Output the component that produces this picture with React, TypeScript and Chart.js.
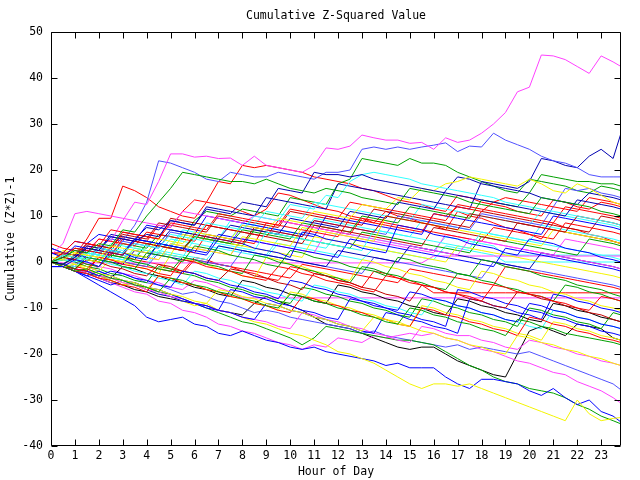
import React, { useEffect, useRef } from "react";
import { Chart, registerables } from "chart.js";

Chart.register(...registerables);

// Hour of day (x positions of the samples)
const HOURS = [
  0, 0.5, 1, 1.5, 2, 2.5, 3, 3.5, 4, 4.5, 5, 5.5, 6, 6.5, 7, 7.5,
  8, 8.5, 9, 9.5, 10, 10.5, 11, 11.5, 12, 12.5, 13, 13.5, 14, 14.5, 15, 15.5,
  16, 16.5, 17, 17.5, 18, 18.5, 19, 19.5, 20, 20.5, 21, 21.5, 22, 22.5, 23, 23.5,
  23.83,
];

const TITLE = "Cumulative Z-Squared Value";
const X_TITLE = "Hour of Day";
const Y_TITLE = "Cumulative (Z*Z)-1";

const RED = "#ff0000";
const DARKRED = "#c00000";
const GREEN = "#00a000";
const BLUE = "#0000ff";
const MEDBLUE = "#5050ff";
const DARKBLUE = "#0000b0";
const MAGENTA = "#ff40ff";
const CYAN = "#30ffff";
const YELLOW = "#f4f400";
const BLACK = "#000000";

// ---- series values (cumulative z^2 - 1) ----
const sMagentaTop = [0, 1.5, 3, 2.5, 5, 4.5, 9, 13, 12.5, 17.5, 23.5, 23.5, 22.8, 23, 22.5, 22.6, 21, 23, 21, 20.5, 20, 19.5, 21, 24.8, 24.5, 25.2, 27.6, 27, 26.5, 26.5, 25.8, 26, 24.5, 27, 26, 26.5, 28, 30, 32.5, 37, 38, 45, 44.8, 44, 42.5, 41, 44.8, 43.5, 42.5];
const sMedBlueTop = [0, -0.5, 1, 0.5, 3, 5, 4.5, 8, 13, 22, 21.5, 20.5, 19.5, 18, 17.5, 19.5, 19, 18.5, 18.5, 19.5, 19, 18.5, 18, 19.5, 19.5, 20, 24.5, 25, 24.5, 25, 24.5, 25, 25.4, 25.9, 24, 25.2, 25, 28, 26.5, 25.5, 24.5, 23, 22, 21.5, 20.5, 19, 18.5, 18.5, 18.5];
const sDarkBlueRise = [3, 2, 1.5, 3, 2.5, 6, 5.5, 5, 7.5, 7, 9, 8.5, 8, 12, 11.5, 11, 10.5, 10, 14, 13.5, 13, 12.5, 12, 11.5, 17, 16.5, 16, 15.5, 15, 14.5, 14, 13.5, 13, 12.5, 12, 11.5, 17.5, 17, 16.5, 16, 17.5, 22.5, 22, 21, 20.5, 23, 24.5, 22.5, 28];
const sGreenUpper = [0, 1, 0.5, 2, 1.5, 1, 4, 3.5, 3, 6, 5.5, 5, 9, 11, 10.5, 10, 11.5, 11, 10.5, 10, 14, 13.5, 13, 12.5, 17, 18, 22.5, 22, 21.5, 21, 22.5, 21.5, 21.5, 21, 19.5, 18.5, 17.5, 16.5, 15.5, 15, 18, 17.5, 17, 16.5, 15.5, 15, 16.5, 16, 15.5];
const sRedPeak = [2, 2, 1.5, 5, 9.5, 9.5, 16.5, 15.5, 14, 12, 11, 10, 9.5, 13, 12.5, 12, 11, 10, 11.5, 15, 14.5, 13.5, 12.5, 11.5, 11, 10, 9.5, 8.5, 11, 10, 9.5, 8.5, 8, 7, 11, 10, 9.5, 8.5, 7.5, 7, 6, 5, 8.5, 7.5, 7, 6, 5.5, 4.5, 4];
const sRedHigh = [0, -0.5, 1, 3.5, 3, 2.5, 5.5, 5, 4.5, 8, 7.5, 11, 13.5, 13, 17.5, 17, 21, 20.5, 21, 20.5, 20, 19.5, 18.5, 18, 17.5, 17, 16, 15.5, 14.5, 13.5, 13, 12.5, 11.5, 11, 14.5, 14, 13, 12.5, 12, 11, 10.5, 10, 13.5, 13, 12, 11.5, 13, 12.5, 12];
const sYellowBottom = [0, -1, -2, -1.5, -3, -4, -5, -4.5, -6, -7, -7.5, -8.5, -9.5, -9, -10.5, -11, -12, -13, -13.5, -14.5, -15.5, -16, -17, -18, -19.5, -20, -21, -22, -23.5, -25, -26.5, -27.5, -26.5, -26.5, -27, -26.5, -27.5, -28.5, -29.5, -30.5, -31.5, -32.5, -33.5, -34.5, -30, -33, -34.5, -34, -33.8];
const sBlueBottom = [0, -1, -2, -3.5, -5, -6.5, -8, -9.5, -12, -13, -12.5, -12, -13.5, -14, -15.5, -16, -15, -16, -17, -17.5, -18.5, -19, -18.5, -19.5, -20, -20.5, -21, -21.5, -22.5, -22, -23, -23, -23, -25, -26.5, -27.5, -25.5, -25.5, -26, -26.5, -28, -29, -27.5, -29.5, -31, -30, -32.5, -33.5, -34.8];
const sGreenBottom = [0, -0.5, -1.5, -2.5, -3, -4, -5, -4.5, -5.5, -6.5, -7, -8, -9, -10, -11, -12, -13, -13.5, -14.5, -15.5, -16.5, -18, -16.5, -14, -14.5, -15, -15.5, -16, -16.5, -17, -17, -17.5, -18, -19.5, -21, -22.5, -23.5, -25, -26, -26.5, -27.5, -28, -28.5, -29.5, -31, -32, -33.5, -34.5, -35.2];
const sMagentaBottom = [0, -1, -1.5, -2.5, -3.5, -4.5, -5.5, -6.5, -7, -8.5, -9, -10.5, -11, -12, -13.5, -14, -15, -15.5, -16.5, -17.5, -18, -19, -18, -18.5, -16.5, -17, -17.5, -16, -16.5, -16, -15.5, -16, -15.5, -16.5, -17, -18, -19, -19.5, -20.5, -21.5, -22, -23, -24, -24.5, -26, -27, -28, -29.5, -30.7];
const sMedBlueLow = [0, 1, 0, -1, -2, -3, -2.5, -3.5, -4.5, -5, -6, -7, -6.5, -7.5, -8.5, -9, -10, -11, -10.5, -11, -12, -12.5, -13, -13.5, -14, -14.5, -15.5, -15, -16, -16.5, -17, -17.5, -18, -18.5, -18, -19, -18.5, -19, -19.5, -20, -19.5, -20.5, -21.5, -22.5, -23.5, -24.5, -25.5, -26.5, -27.8];
const sBlackLow = [0, -1, -2, -2.5, -3.5, -4.5, -5, -6, -6.5, -7.5, -8, -8.5, -9, -9.5, -10.5, -11, -11.5, -9, -7.5, -8.5, -9.5, -10.5, -12, -13.5, -14, -14.5, -15.5, -16.5, -17.5, -18.5, -19, -18.5, -18.5, -20, -21.5, -22.5, -23.5, -24.5, -25, -20, -15, -14, -15, -16, -13.5, -14, -14.5, -16.5, -17];

const s01 = [0, 1, 2.5, 2, 4, 3.5, 7, 6.5, 10, 13, 16, 19.5, 19, 18.5, 18, 17.5, 17.5, 17, 18, 17, 16, 15.5, 15, 16, 15.5, 15, 14, 13.5, 13, 12.5, 16, 15.5, 15, 14.5, 14, 13, 12.5, 12, 11.5, 11, 10.5, 14, 13.5, 13, 12.5, 12, 11, 10.5, 10];
const s02 = [0, -0.5, 1, 3, 2.5, 5.5, 5, 4.5, 6, 5.5, 9, 8.5, 8, 11.5, 11, 10.5, 13, 12.5, 12, 16, 15.5, 15, 19.5, 19, 19, 18.5, 19, 18, 17.5, 17, 16.5, 16, 15.5, 15, 14.5, 14, 13.5, 13, 12.5, 12, 11.5, 11, 10.5, 10, 13.5, 13, 12.5, 12, 11.5];
const s03 = [0, 1.5, 1, 0.5, 3, 2.5, 2, 4, 3.5, 3, 6, 5.5, 5, 8.5, 8, 7.5, 7, 10, 9.5, 9, 12.5, 12, 11.5, 14.5, 14, 17.5, 19, 19.5, 19, 18.5, 18, 17, 16.5, 16, 15.5, 15, 14.5, 14, 13, 12.5, 12, 11.5, 11, 10.5, 10, 9.5, 9, 8.5, 8];
const s04 = [1, 0.5, 2, 1.5, 1, 3.5, 3, 2.5, 2, 5, 4.5, 4, 6.5, 6, 5.5, 5, 8, 7.5, 7, 9.5, 9, 8.5, 11, 10.5, 10, 9.5, 12.5, 12, 11.5, 14, 13.5, 16, 15.5, 17, 17.5, 18.5, 18, 17.5, 17, 16.5, 18, 17, 15.5, 15, 17, 16, 14.5, 13, 12.5];
const s06 = [0, 2, 4.5, 4, 3.5, 7, 6.5, 6, 5.5, 5, 8.5, 8, 7.5, 7, 10.5, 10, 9.5, 9, 8.5, 8, 11.5, 11, 10.5, 10, 9.5, 13, 12.5, 12, 11.5, 11, 10.5, 10, 9.5, 9, 12.5, 12, 11.5, 11, 10.5, 10, 9.5, 9, 8.5, 12, 11.5, 11, 10.5, 10, 9.5];
const s07 = [0, 1, 0.5, 3, 2.5, 2, 1.5, 4.5, 4, 3.5, 3, 2.5, 6, 5.5, 5, 4.5, 4, 7.5, 7, 6.5, 6, 5.5, 9, 8.5, 8, 7.5, 7, 6.5, 10, 9.5, 9, 8.5, 8, 7.5, 7, 10.5, 10, 9.5, 9, 8.5, 8, 7.5, 7, 6.5, 10, 9.5, 9, 8.5, 8];
const s08 = [-1, -1, 0.5, 0, -1, 2.5, 2, 1, 0.5, 4, 3.5, 3, 2, 1.5, 5, 4.5, 4, 3, 2.5, 2, 1, 6.5, 6, 5, 4.5, 4, 3, 2.5, 2, 8, 7.5, 7, 6, 5.5, 5, 4, 3.5, 3, 2, 1.5, 5, 4.5, 4, 3, 2.5, 2, 1, 0.5, 0];
const s09 = [0, -0.5, -1.5, 1, 0.5, 0, -1, -1.5, 2, 1.5, 1, 0, 3.5, 3, 2.5, 1.5, 1, 0.5, -0.5, -1, 2.5, 2, 1, 0.5, 0, -1, -1.5, -2, -3, 1, 0.5, -0.5, -1, -1.5, -2.5, -3, 0.5, 0, -1, -1.5, -2, -3, -3.5, -4, -5, -5.5, -6, -7, -7.5];
const s10 = [0, 1.5, 1, 0.5, 0, 2.5, 2, 1.5, 1, 0.5, 4, 3.5, 3, 2.5, 2, 1.5, 5.5, 5, 4.5, 4, 3.5, 7.5, 7, 6.5, 6, 5.5, 5, 4.5, 10, 9.5, 9, 8.5, 8, 7.5, 7, 6.5, 6, 5.5, 5, 4.5, 4, 3.5, 7, 6.5, 6, 5.5, 5, 4.5, 4];
const s11 = [0, 0.5, 0, 2, 1.5, 1, 0.5, 3, 2.5, 2, 1.5, 1, 5, 4.5, 4, 3.5, 3, 2.5, 6.5, 6, 5.5, 5, 4.5, 4, 3.5, 3, 2.5, 7, 6.5, 6, 5.5, 5, 4.5, 4, 3.5, 3, 6.5, 6, 5.5, 5, 4.5, 4, 3.5, 3, 2.5, 2, 1.5, 1, 0.5];
const s12 = [0, -0.5, -1.5, -2, 1, 0.5, -0.5, -1, -1.5, -2.5, -3, 0.5, 0, -1, -1.5, -2, -3, -3.5, -4, -1, -1.5, -2.5, -3, -4, -4.5, -5, -6, -6.5, -3, -3.5, -4.5, -5, -5.5, -6.5, -7, -7.5, -8.5, -5, -5.5, -6.5, -7, -7.5, -8.5, -9, -10, -10.5, -7.5, -8, -8.5];
const s13 = [2, 1, 3.5, 3, 2.5, 2, 1.5, 5, 4.5, 4, 3.5, 3, 2.5, 2, 6, 5.5, 5, 4.5, 4, 3.5, 3, 2.5, 2, 1.5, 1, 5, 4.5, 4, 3.5, 3, 2.5, 2, 1.5, 1, 0.5, 0, -0.5, -1, 3, 2.5, 2, 1.5, 1, 0.5, 0, -0.5, -1, -1.5, -2];
const s14 = [1.5, 4, 10.5, 11, 10.5, 10, 9.5, 9, 8.5, 8, 7.5, 11, 10.5, 10, 9.5, 9, 8.5, 10, 9.5, 9, 8.5, 8, 7.5, 7, 6.5, 6, 5.5, 5, 4.5, 4, 3.5, 3, 2.5, 2, 1.5, 5, 4.5, 4, 3.5, 3, 2.5, 2, 1.5, 1, 0.5, 0, -0.5, -1, -1.5];
const s15 = [0, 2, 1.5, 4, 3.5, 3, 6.5, 6, 5.5, 5, 9.5, 9, 8.5, 8, 7.5, 7, 6.5, 6, 5.5, 5, 4.5, 4, 8, 7.5, 7, 6.5, 6, 5.5, 5, 4.5, 4, 3.5, 7.5, 7, 6.5, 6, 5.5, 5, 4.5, 8.5, 8, 7.5, 7, 6.5, 6, 5.5, 5, 4.5, 4];
const s16 = [0, -1, -2, -1.5, -2.5, -3.5, -4, -5, -5.5, -6.5, -3.5, -4, -5, -5.5, -6.5, -7, -8, -8.5, -9.5, -10, -7, -7.5, -8.5, -9, -10, -10.5, -11.5, -12, -13, -13.5, -10, -10.5, -11.5, -12, -13, -13.5, -14.5, -15, -16, -12.5, -13, -14, -14.5, -15.5, -16, -16.5, -17, -17.5, -18];
const s17 = [0, -1, -0.5, -1.5, -2.5, -3, -4, -4.5, -5.5, -6, -7, -7.5, -8.5, -9, -6, -6.5, -7.5, -8, -9, -9.5, -10.5, -11, -12, -12.5, -13.5, -14, -15, -12, -12.5, -13.5, -14, -15, -15.5, -16.5, -17, -18, -18.5, -19.5, -20, -16, -16.5, -17.5, -18, -19, -19.5, -20.5, -21, -22, -22.5];
const s18 = [0, -0.5, -1.5, -2, -3, -2, -2.5, -3.5, -4, -5, -5.5, -2, -2.5, -3.5, -4, -5, -5.5, -6.5, -7, -8, -4, -4.5, -5.5, -6, -7, -7.5, -8.5, -9, -10, -10.5, -6.5, -7, -8, -8.5, -9.5, -10, -11, -11.5, -12.5, -13, -9, -9.5, -10.5, -11, -12, -12.5, -13.5, -14, -14.5];
const s19 = [0, -1, -2, -2.5, -3.5, -4, -5, -5.5, -6.5, -3, -3.5, -4.5, -5, -6, -6.5, -7.5, -8, -9, -9.5, -10.5, -11, -7.5, -8, -9, -9.5, -10.5, -11, -12, -12.5, -13.5, -14, -10, -10.5, -11.5, -12, -13, -13.5, -14.5, -15, -16, -12, -12.5, -13.5, -14, -15, -15.5, -16.5, -17, -17.5];
const s26 = [0, 1.5, 1, 3.5, 3, 2.5, 2, 5, 4.5, 4, 7, 6.5, 6, 5.5, 5, 8, 7.5, 7, 6.5, 6, 9.5, 9, 8.5, 8, 7.5, 11, 10.5, 10, 9.5, 13, 12.5, 12, 11.5, 15.5, 18.5, 18, 17, 16.5, 16, 15.5, 15, 14, 13.5, 13, 12.5, 15, 14.5, 14, 13.5];
const s27 = [0, -0.5, 1, 0.5, 0, 2.5, 2, 1.5, 1, 4, 3.5, 3, 5.5, 5, 4.5, 4, 7, 6.5, 6, 5.5, 5, 8.5, 8, 7.5, 7, 6.5, 10, 9.5, 9, 8.5, 12, 11.5, 11, 10.5, 10, 9.5, 13.5, 13, 12.5, 12, 15, 19, 18.5, 18, 17.5, 17.5, 17, 17, 16.5];
const s28 = [0, 1.5, 3, 2.5, 2, 1.5, 5, 4.5, 4, 3.5, 3, 2.5, 2, 6, 5.5, 5, 4.5, 4, 8.5, 8, 7.5, 7, 6.5, 6, 5.5, 9.5, 9, 8.5, 8, 7.5, 7, 6.5, 10.5, 10, 12, 11.5, 11, 13, 14, 13.5, 13, 12.5, 12, 11.5, 11, 14, 13.5, 13, 12.5];
const s29 = [0, 2.5, 2, 1.5, 1, 0.5, 0, 3, 2.5, 2, 1.5, 6, 5.5, 5, 4.5, 4, 3.5, 3, 2.5, 2, 1.5, 1, 5.5, 5, 4.5, 4, 3.5, 3, 2.5, 2, 1.5, 1, 0.5, 0, 3.5, 3, 2.5, 2, 1.5, 1, 0.5, 0, -0.5, -1, -1.5, -2, -2.5, -3, -3.5];
const s30 = [0, 1, 0.5, 2.5, 2, 1.5, 4.5, 4, 3.5, 3, 6.5, 6, 5.5, 5, 4.5, 4, 8, 7.5, 7, 6.5, 6, 5.5, 9, 8.5, 8, 7.5, 7, 6.5, 6, 10, 9.5, 9, 8.5, 8, 7.5, 7, 10.5, 10, 9.5, 9, 8.5, 8, 12, 16, 15.5, 16, 15, 14.5, 14];
const s31 = [0, -1, -1.5, 0.5, 0, -1, -1.5, -2.5, -3, -0.5, -1, -2, -2.5, -3.5, -4, -1.5, -2, -3, -3.5, -4.5, -5, -6, -2.5, -3, -4, -4.5, -5.5, -6, -7, -7.5, -8.5, -5, -5.5, -6.5, -7, -8, -8.5, -9.5, -10, -6.5, -7, -8, -8.5, -9.5, -10, -11, -11.5, -12.5, -13];
const s32 = [0, 1, 0.5, -0.5, -1, 1.5, 1, 0, -0.5, -1.5, -2, 1, 0.5, -0.5, -1, -2, -2.5, 1.5, 1, 0, -0.5, -1.5, -2, -3, -3.5, -4.5, -1, -1.5, -2.5, -3, -4, -4.5, -5.5, -6, -2.5, -3, -4, -4.5, -5.5, -6, -7, -7.5, -8.5, -5, -5.5, -6.5, -7, -8, -8.5];
const s33 = [-1, -1, -2, -3, -2, -3, -4, -4.5, -5.5, -6, -7, -8, -9, -9.5, -10.5, -11, -12, -12.5, -9, -9.5, -10.5, -11, -12, -12.5, -13.5, -14, -15, -15.5, -11, -11.5, -12.5, -13, -14, -14.5, -15.5, -8, -8.5, -9.5, -10, -11, -11.5, -12.5, -7, -7.5, -8.5, -9, -10, -10.5, -11];
const s34 = [0, -0.5, -1.5, -2, -3, -3.5, -4.5, -5, -6, -6.5, -7.5, -8, -9, -9.5, -10.5, -11, -12, -12.5, -13, -14, -14.5, -11, -11.5, -12.5, -13, -14, -14.5, -15.5, -16, -17, -17.5, -14, -14.5, -15.5, -16, -16, -17, -17.5, -18.5, -19, -17, -17.5, -18.5, -19, -20, -20.5, -21.5, -22, -22.5];
const s35 = [0, -0.5, -1, 1, 0.5, -0.5, -1, -2, -2.5, -3.5, -4, -5, -2, -2.5, -3.5, -4, -5, -5.5, -6.5, -7, -8, -8.5, -5, -5.5, -6.5, -7, -8, -8.5, -9.5, -10, -11, -11.5, -8, -8.5, -9.5, -10, -11, -11.5, -12.5, -13, -14, -14.5, -10.5, -11, -12, -12.5, -13.5, -14, -14.5];
const s36 = [0, 0.5, -0.5, -1, -2, 0.5, 0, -1, -1.5, -2.5, 1.5, 1, 0, -0.5, -1.5, -2, -3, -3.5, 1, 0.5, -0.5, -1, -2, -2.5, -3.5, -4, 0.5, 0, -1, -1.5, -2.5, -3, -4, -4.5, -5.5, -6, -2, -2.5, -3.5, -4, -5, -5.5, -6.5, -7, -8, -8.5, -9.5, -10, -10.5];
const s37 = [4, 3, 2.5, 2, 5, 4.5, 4, 3.5, 6.5, 6, 5.5, 5, 4.5, 8, 7.5, 7, 6.5, 6, 5.5, 9, 8.5, 8, 7.5, 7, 6.5, 6, 9.5, 9, 8.5, 8, 7.5, 7, 6.5, 6, 5.5, 5, 4.5, 7.5, 7, 6.5, 6, 5.5, 5, 8.5, 8, 7.5, 7, 6.5, 6];
const s38 = [3, 2, 4.5, 4, 6, 5.5, 5, 4.5, 8, 7.5, 7, 6.5, 6, 10, 9.5, 9, 8.5, 8, 7.5, 7, 6.5, 6, 5.5, 10, 9.5, 9, 8.5, 8, 7.5, 7, 6.5, 6, 10.5, 10, 9.5, 9, 8.5, 8, 7.5, 7, 6.5, 6, 10, 9.5, 9, 8.5, 8, 7.5, 7];
const s39 = [0, -0.5, 1.5, 1, 0.5, 0, -0.5, 2.5, 2, 1.5, 1, 0.5, 0, -0.5, 3.5, 3, 2.5, 2, 1.5, 1, 0.5, 0, -0.5, -1, 2.5, 2, 1.5, 1, 0.5, 0, 3.5, 3, 2.5, 2, 1.5, 1, 0.5, 0, -0.5, -1, -1.5, 2, 1.5, 1, 0.5, 0, -0.5, -1, -1.5];
const s40 = [0, 0.5, 3, 2.5, 2, 1.5, 1, 0.5, 4, 3.5, 3, 2.5, 5.5, 5, 4.5, 4, 3.5, 7, 6.5, 6, 5.5, 5, 4.5, 4, 3.5, 3, 6.5, 6, 5.5, 5, 4.5, 4, 3.5, 3, 2.5, 2, 5.5, 5, 4.5, 4, 3.5, 3, 2.5, 2, 1.5, 5, 4.5, 4, 3.5];
const s41 = [0, 1, 0.5, 0, 2.5, 2, 1.5, 1, 4, 3.5, 3, 6.5, 6, 5.5, 5, 9, 8.5, 8, 11, 10.5, 10, 9.5, 13, 12.5, 12, 11.5, 11, 10.5, 10, 9.5, 9, 12.5, 12, 11.5, 11, 10.5, 10, 9.5, 9, 8.5, 8, 11, 10.5, 10, 9.5, 9, 8.5, 8, 7.5];
const s42 = [0, -0.5, -1, 1.5, 1, 0.5, 0, -0.5, -1, 2, 1.5, 1, 0.5, 0, -0.5, -1, 2.5, 2, 1.5, 1, 0.5, 0, -0.5, -1, -1.5, -2, -2.5, 1, 0.5, 0, -0.5, -1, -1.5, -2, -2.5, -3, -3.5, 0, -0.5, -1, -1.5, -2, -2.5, -3, -3.5, -4, -4.5, -5, -5.5];
const s43 = [2, 1.5, 1, 4, 3.5, 3, 6, 5.5, 5, 8.5, 8, 7.5, 7, 6.5, 10, 9.5, 9, 8.5, 8, 7.5, 11, 10.5, 10, 9.5, 9, 8.5, 8, 11.5, 11, 10.5, 10, 9.5, 9, 8.5, 8, 7.5, 11, 10.5, 10, 9.5, 9, 8.5, 8, 7.5, 7, 6.5, 10, 9.5, 9];
const s44 = [0, -0.5, -1, -1.5, 1, 0.5, 0, -0.5, -1, -1.5, -2, -2.5, 0.5, 0, -0.5, -1, -1.5, -2, -2.5, -3, -3.5, -0.5, -1, -1.5, -2, -2.5, -3, -3.5, -4, -4.5, -1.5, -2, -2.5, -3, -3.5, -4, -4.5, -5, -1, -1.5, -2, -2.5, -3, -3.5, -4, -4.5, -5, -5.5, -6];
const s45 = [0, -0.5, -1.5, -2, -3, -3.5, -4.5, -5, -6, -3, -3.5, -4.5, -5, -6, -6.5, -7.5, -8, -9, -9.5, -10.5, -6.5, -7, -8, -8.5, -9.5, -10, -11, -11.5, -12.5, -13, -14, -9.5, -10, -11, -11.5, -12.5, -13, -14, -14.5, -15.5, -16, -17, -13, -13.5, -14.5, -15, -16, -16.5, -17];
const s46 = [0, -1, -2, -3, -4, -5, -4, -5, -6, -7, -7.5, -8.5, -9, -10, -10.5, -6, -6.5, -7.5, -8, -9, -9.5, -10.5, -11, -12, -12.5, -8, -8.5, -9.5, -10, -11, -11.5, -12.5, -13, -14, -6, -6.5, -7.5, -8, -9, -9.5, -10.5, -11, -12, -12.5, -13.5, -14, -15, -15.5, -16];
const s47 = [0, 0.5, 0, -1, -1.5, -2.5, -3, -4, -4.5, -1, -1.5, -2.5, -3, -4, -4.5, -5.5, -6, -7, -7.5, -8.5, -9, -5.5, -6, -7, -7.5, -8.5, -9, -10, -10.5, -11.5, -12, -8, -8.5, -9.5, -10, -11, -11.5, -12.5, -13, -14, -10, -10.5, -11.5, -12, -13, -13.5, -14.5, -11, -11.5];
const s48 = [0, -0.5, -1.5, -2, -3, -3.5, -1, -1.5, -2.5, -3, -4, -4.5, -5.5, -6, -7, -7.5, -4, -4.5, -5.5, -6, -7, -7.5, -8.5, -9, -5, -5.5, -6.5, -7, -8, -8.5, -9.5, -10, -11, -11.5, -8, -8.5, -9.5, -10, -11, -11.5, -12.5, -13, -9, -9.5, -10.5, -11, -12, -12.5, -13];
const s49 = [0, 2, 1.5, 1, 3.5, 3, 2.5, 5, 4.5, 4, 3.5, 7, 6.5, 6, 5.5, 5, 8.5, 8, 7.5, 7, 6.5, 6, 9.5, 9, 8.5, 8, 7.5, 7, 6.5, 6, 5.5, 9, 8.5, 8, 7.5, 7, 6.5, 6, 5.5, 5, 4.5, 8, 7.5, 7, 6.5, 6, 5.5, 5, 4.5];
const s50 = [0, 1, 0.5, 0, 3, 2.5, 2, 1.5, 1, 0.5, 4, 3.5, 3, 2.5, 2, 1.5, 5, 4.5, 4, 3.5, 3, 2.5, 2, 6.5, 6, 5.5, 5, 4.5, 4, 3.5, 3, 2.5, 2, 6, 5.5, 5, 4.5, 4, 3.5, 3, 2.5, 2, 1.5, 5, 4.5, 4, 3.5, 3, 2.5];

// series that stop changing and run flat
const sMagentaFlat0 = [0.3, -0.2, -0.2, -0.2, -0.2, -0.2, -0.2, -0.2, -0.2, -0.2, -0.2, -0.2, -0.2, -0.2, -0.2, -0.2, -0.2, -0.2, -0.2, -0.2, -0.2, -0.2, -0.2, -0.2, -0.2, -0.2, -0.2, -0.2, -0.2, -0.2, -0.2, -0.2, 1.3, 1.3, 1.3, 1.3, 1.3, 1.3, 1.3, 1.3, 1.3, 1.3, 1.3, 1.3, 1.3, 1.3, 1.3, 1.3, 1.3];
const sCyanFlat0 = [0, 1, 2.5, 2, 1.5, 4, 3.5, 3, 2.5, 2, 5, 4.5, 4, 3.5, 3, 2.5, 2, 1.5, 1, 4, 3.5, 3, 2.5, 2, 1.5, 1, 0.5, 3, 2.5, 2, 1.5, 1, 0.5, 3.5, 3, 2.5, 2, 1.5, 0, 0, 0, 0, 0, 0, 0, 0, 0, 0, 0];
const sCyanFlat15 = [0, -1, -0.5, 2, 1.5, 1, 0.5, 0, -0.5, 2.5, 2, 1.5, 1, 0.5, 3.5, 3, 2.5, 2, 1.5, 5, 4.5, 4, 3.5, 3, 6.5, 6, 5.5, 5, 4.5, 4, 3.5, 3, 2.5, 5.5, 5, 4.5, 4, 3.5, 1.5, 1.5, 1.5, 1.5, 1.5, 1.5, 1.5, 1.5, 1.5, 1.5, 1.5];
const sMagentaFlat78 = [0, -1, -1.5, -2.5, -1, -1.5, -2.5, -3, -4, -4.5, -5.5, -6, -4, -4.5, -5.5, -6.5, -7.8, -7.8, -7.8, -7.8, -7.8, -7.8, -7.8, -7.8, -7.8, -7.8, -7.8, -7.8, -7.8, -7.8, -7.8, -7.8, -7.8, -7.8, -7.8, -7.8, -7.8, -7.8, -7.8, -7.8, -7.8, -7.8, -7.8, -7.8, -7.8, -7.8, -7.8, -7.8, -7.8];
const sRedFlat67 = [0, 1, 0.5, -0.5, -1, 2, 1.5, 0.5, 0, -0.5, -1.5, -2, 1, 0.5, -0.5, -1, -2, -2.5, -3.5, -4, -1, -1.5, -2.5, -3, -4, -4.5, -5.5, -2, -2.5, -3.5, -4, -5, -6.7, -6.7, -6.7, -6.7, -6.7, -6.7, -6.7, -6.7, -6.7, -6.7, -6.7, -6.7, -6.7, -6.7, -6.7, -6.7, -6.7];

const SERIES: [number[], string][] = [
  [s01, GREEN], [s02, DARKBLUE], [s03, CYAN], [s04, YELLOW], [s06, RED],
  [s07, DARKRED], [s08, BLUE], [s09, GREEN], [s10, YELLOW], [s11, CYAN],
  [s12, RED], [s13, BLUE], [s14, MAGENTA], [s15, DARKRED], [s16, GREEN],
  [s17, YELLOW], [s18, BLUE], [s19, RED], [s26, DARKBLUE], [s27, GREEN],
  [s28, RED], [s29, YELLOW], [s30, MEDBLUE], [s31, DARKRED], [s32, GREEN],
  [s33, BLUE], [s34, MAGENTA], [s35, CYAN], [s36, YELLOW], [s37, RED],
  [s38, BLUE], [s39, DARKBLUE], [s40, GREEN], [s41, CYAN], [s42, MEDBLUE],
  [s43, DARKRED], [s44, RED], [s45, YELLOW], [s46, BLUE], [s47, GREEN],
  [s48, BLACK], [s49, CYAN], [s50, MAGENTA],
  [sMagentaFlat0, MAGENTA], [sCyanFlat0, CYAN], [sCyanFlat15, CYAN],
  [sMagentaFlat78, MAGENTA], [sRedFlat67, RED],
  [sMagentaTop, MAGENTA], [sMedBlueTop, MEDBLUE], [sDarkBlueRise, DARKBLUE],
  [sGreenUpper, GREEN], [sRedPeak, RED], [sRedHigh, RED],
  [sYellowBottom, YELLOW], [sBlueBottom, BLUE], [sGreenBottom, GREEN],
  [sMagentaBottom, MAGENTA], [sMedBlueLow, MEDBLUE], [sBlackLow, BLACK],
];

const FONT = "'DejaVu Sans Mono', 'Liberation Mono', monospace";
const FSIZE = 11.5;

const framePlugin = {
  id: "gnuframe",
  afterDraw(chart: any) {
    const { ctx, chartArea: a, scales } = chart;
    const L = Math.round(a.left) + 0.5;
    const R = Math.round(a.right) - 0.5;
    const T = Math.round(a.top) + 0.5;
    const B = Math.round(a.bottom) - 0.5;
    ctx.save();
    ctx.strokeStyle = "#000";
    ctx.lineWidth = 1;
    ctx.beginPath();
    ctx.rect(L, T, R - L, B - T);
    const tl = 6;
    for (const t of scales.x.ticks) {
      const px = Math.round(scales.x.getPixelForValue(t.value)) + 0.5;
      ctx.moveTo(px, B); ctx.lineTo(px, B - tl);
      ctx.moveTo(px, T); ctx.lineTo(px, T + tl);
    }
    for (const t of scales.y.ticks) {
      const py = Math.round(scales.y.getPixelForValue(t.value)) + 0.5;
      ctx.moveTo(L, py); ctx.lineTo(L + tl, py);
      ctx.moveTo(R, py); ctx.lineTo(R - tl, py);
    }
    ctx.stroke();
    ctx.fillStyle = "#000";
    ctx.font = `${FSIZE}px ${FONT}`;
    ctx.textAlign = "center";
    ctx.textBaseline = "middle";
    const cx = (a.left + a.right) / 2;
    ctx.fillText(TITLE, cx, 16);
    ctx.fillText(X_TITLE, cx, 472);
    ctx.translate(11, (a.top + a.bottom) / 2);
    ctx.rotate(-Math.PI / 2);
    ctx.fillText(Y_TITLE, 0, 0);
    ctx.restore();
  },
};

export default function App() {
  const ref = useRef<HTMLCanvasElement | null>(null);
  useEffect(() => {
    if (!ref.current) return;
    const datasets = SERIES.map(([vals, color]) => ({
      data: vals.map((v, i) => ({ x: HOURS[i], y: v })),
      borderColor: color,
      backgroundColor: color,
      borderWidth: 1,
      pointRadius: 0,
      tension: 0,
      fill: false,
    }));
    const chart = new Chart(ref.current, {
      type: "line",
      data: { datasets },
      options: {
        animation: false,
        responsive: false,
        devicePixelRatio: 1,
        layout: { padding: { left: 0, right: 19, top: 32, bottom: 0 } },
        plugins: { legend: { display: false }, tooltip: { enabled: false }, title: { display: false } },
        scales: {
          x: {
            type: "linear",
            min: 0,
            max: 23.83,
            grid: { display: false, drawTicks: false },
            border: { display: false },
            ticks: {
              stepSize: 1,
              includeBounds: false,
              autoSkip: false,
              maxRotation: 0,
              color: "#000",
              padding: 3,
              font: { family: FONT, size: FSIZE },
            },
            afterFit(s: any) { s.height = 34; },
          },
          y: {
            type: "linear",
            min: -40,
            max: 50,
            grid: { display: false, drawTicks: false },
            border: { display: false },
            ticks: {
              stepSize: 10,
              color: "#000",
              padding: 8,
              font: { family: FONT, size: FSIZE },
            },
            afterFit(s: any) { s.width = 51; },
          },
        },
      },
      plugins: [framePlugin],
    });
    return () => chart.destroy();
  }, []);
  return (
    <div style={{ position: "absolute", left: 0, top: 0, width: 640, height: 480, background: "#fff" }}>
      <canvas ref={ref} width={640} height={480} style={{ display: "block" }} />
    </div>
  );
}
